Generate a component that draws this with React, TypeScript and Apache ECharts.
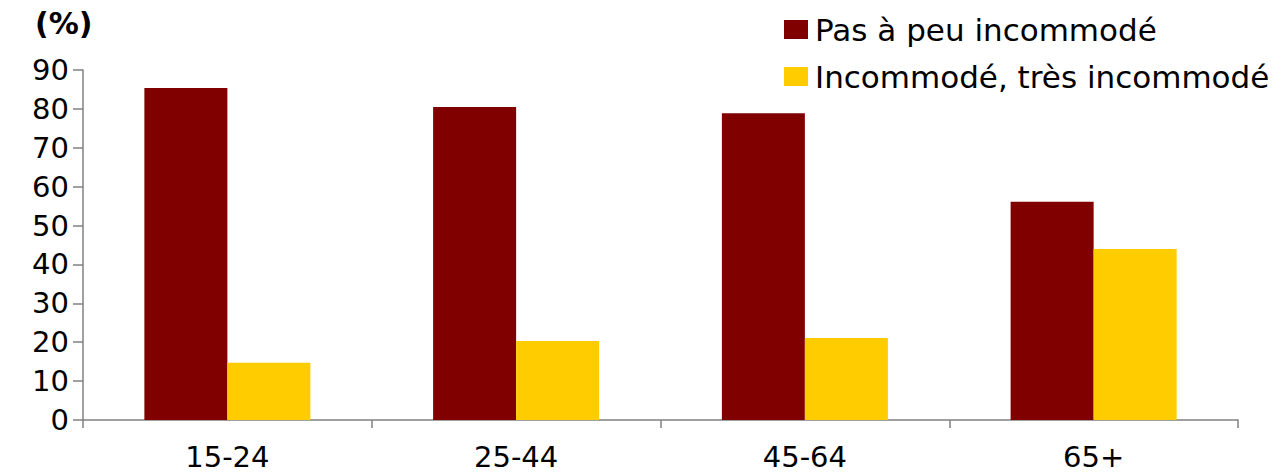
import React, { useEffect, useRef } from "react";
import * as echarts from "echarts";

const categories = ["15-24", "25-44", "45-64", "65+"];
const seriesNames = ["Pas à peu incommodé", "Incommodé, très incommodé"];
const notBothered = [85.4, 80.5, 78.9, 56.1];
const bothered = [14.7, 20.3, 21.1, 44.0];
const yTicks = { min: 0, max: 90, interval: 10 };
const unitLabel = "(%)";

const FONT = "DejaVu Sans";

export default function App() {
  const ref = useRef<HTMLDivElement>(null);
  useEffect(() => {
    if (!ref.current) return;
    const chart = echarts.init(ref.current, undefined, { renderer: "svg" });
    chart.setOption({
      animation: false,
      backgroundColor: "#ffffff",
      title: {
        text: unitLabel,
        left: 30,
        top: 3,
        textStyle: { fontFamily: FONT, fontSize: 30, fontWeight: "bold", color: "#000" },
      },
      legend: {
        orient: "vertical",
        left: 779,
        top: 9,
        itemWidth: 24,
        itemHeight: 19,
        itemGap: 16,
        icon: "rect",
        data: seriesNames,
        textStyle: { fontFamily: FONT, fontSize: 31, color: "#000", lineHeight: 30, padding: [0, 0, 0, 2] },
      },
      grid: { left: 83, right: 49, top: 70, bottom: 54 },
      xAxis: {
        type: "category",
        data: categories,
        axisLine: { lineStyle: { color: "#808080", width: 1.5 } },
        axisTick: { show: true, length: 8, lineStyle: { color: "#808080", width: 1.5 } },
        axisLabel: { fontFamily: FONT, fontSize: 29, color: "#000", margin: 22 },
      },
      yAxis: {
        type: "value",
        min: yTicks.min,
        max: yTicks.max,
        interval: yTicks.interval,
        splitLine: { show: false },
        axisLine: { show: true, lineStyle: { color: "#808080", width: 1.5 } },
        axisTick: { show: true, length: 10, lineStyle: { color: "#808080", width: 1.5 } },
        axisLabel: { fontFamily: FONT, fontSize: 29, color: "#000", margin: 14 },
      },
      series: [
        {
          name: seriesNames[0],
          type: "bar",
          data: notBothered,
          barWidth: 83,
          barGap: "0%",
          itemStyle: { color: "#800000" },
        },
        {
          name: seriesNames[1],
          type: "bar",
          data: bothered,
          barWidth: 83,
          barGap: "0%",
          itemStyle: { color: "#FFCC00" },
        },
      ],
    });
    return () => chart.dispose();
  }, []);
  return (
    <div
      ref={ref}
      style={{ position: "absolute", left: 0, top: 0, width: 1287, height: 474 }}
    />
  );
}
